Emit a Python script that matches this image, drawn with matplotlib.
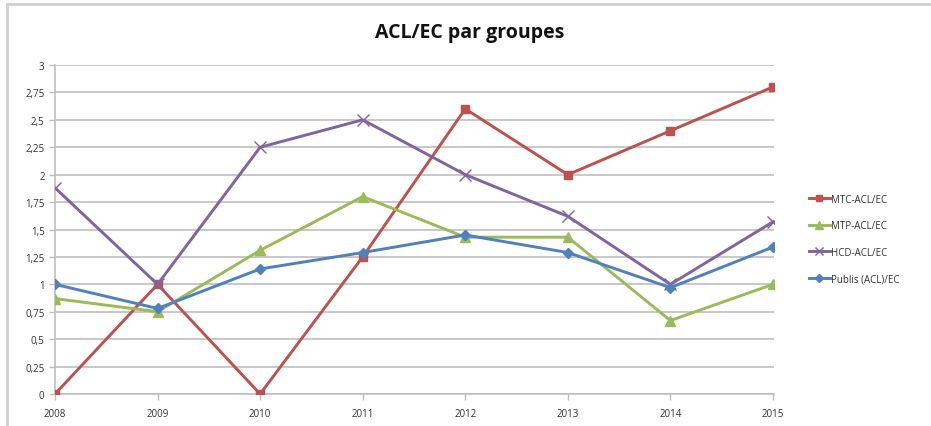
import matplotlib
matplotlib.use("Agg")
import matplotlib.pyplot as plt
from matplotlib.lines import Line2D

years = ["2008", "2009", "2010", "2011", "2012", "2013", "2014", "2015"]
mtc = [0.0, 1.0, 0.0, 1.25, 2.6, 2.0, 2.4, 2.8]
mtp = [0.87, 0.75, 1.31, 1.8, 1.43, 1.43, 0.67, 1.0]
hcd = [1.88, 1.0, 2.25, 2.5, 2.0, 1.62, 1.0, 1.57]
publis = [1.0, 0.78, 1.14, 1.29, 1.45, 1.29, 0.97, 1.34]
series_names = ["MTC-ACL/EC", "MTP-ACL/EC", "HCD-ACL/EC", "Publis (ACL)/EC"]
yticks = [0, 0.25, 0.5, 0.75, 1, 1.25, 1.5, 1.75, 2, 2.25, 2.5, 2.75, 3]

plt.rcParams['font.family'] = ['Open Sans', 'DejaVu Sans']

fig = plt.figure(figsize=(9.31, 4.27), dpi=100)
ax = fig.add_axes([55/931, 1-395/427, (774-55)/931, (395-66)/427])

x = list(range(len(years)))
styles = [
    (mtc, "#C0504D", "s", 6, "none"),
    (mtp, "#9BBB59", "^", 7, "none"),
    (hcd, "#8064A2", "x", 8, None),
    (publis, "#4F81BD", "D", 5, "none"),
]
handles = []
for (vals, col, mk, ms, mec), name in zip(styles, series_names):
    kw = dict(color=col, lw=2.1, marker=mk, ms=ms)
    if mec is None:
        kw["mew"] = 1.0
    else:
        kw["mec"] = col
    ln, = ax.plot(x, vals, label=name, zorder=3, **kw)
    handles.append(ln)

ax.set_xlim(0, 7.01)
ax.set_ylim(0, 3)
ax.set_yticks(yticks)
ax.set_yticklabels([("%g" % v).replace(".", ",") for v in yticks])
ax.set_xticks(x)
ax.set_xticklabels(years)
ax.yaxis.grid(True, color="#bfbfbf", lw=1.2)
ax.set_axisbelow(True)
for s in ["top", "right"]:
    ax.spines[s].set_visible(False)
for s in ["left", "bottom"]:
    ax.spines[s].set_color("#bfbfbf")
    ax.spines[s].set_linewidth(1.2)
ax.tick_params(axis="both", colors="#bfbfbf", labelcolor="#333333", labelsize=7, length=4, width=1)
ax.tick_params(axis="x", pad=6)

fig.text(470/931, 1-33/427, "ACL/EC par groupes", ha="center", va="center",
         fontsize=14, fontweight="bold", color="#111111")

leg = fig.legend(handles=handles, loc="center left", bbox_to_anchor=(800/931, 1-240/427),
                 frameon=False, fontsize=7, handlelength=2.2, handletextpad=0.1,
                 labelspacing=1.6, labelcolor="#333333", markerscale=0.75)

# outer chart frame (top and left visible)
fig.add_artist(Line2D([7/931, 7/931], [0, 1-5/427], transform=fig.transFigure, color="#d0d0d0", lw=2))
fig.add_artist(Line2D([7/931, 1], [1-5/427, 1-5/427], transform=fig.transFigure, color="#d0d0d0", lw=2))

fig.savefig("out.png", dpi=100)
